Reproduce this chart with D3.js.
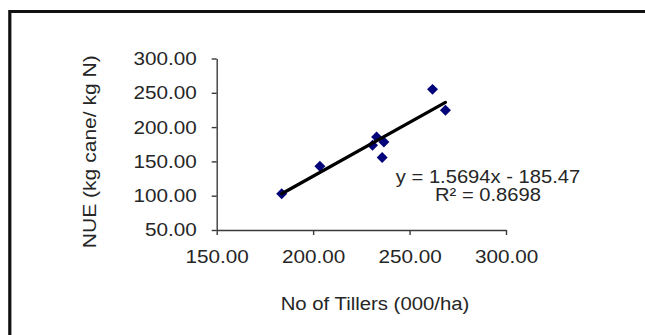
<!DOCTYPE html>
<html>
<head>
<meta charset="utf-8">
<script src="https://cdn.jsdelivr.net/npm/d3@7"></script>
<style>
  html, body { margin: 0; padding: 0; background: #fff; overflow: hidden; }
  svg { display: block; }
  text { font-family: "Liberation Sans", Arial, sans-serif; fill: #262626; }
</style>
</head>
<body>
<svg id="chart" width="645" height="335"></svg>
<script>
// Tiller density (000/ha) against nitrogen use efficiency (kg cane / kg N)
const tillers = [183.7, 203.5, 230.8, 232.9, 236.7, 235.8, 261.9, 268.6];
const nue     = [102.9, 142.8, 173.5, 185.7, 178.4, 155.6, 255.0, 224.7];

// Linear trendline fitted to the points
const slope = 1.5694;
const intercept = -185.47;
const rSquared = 0.8698;

const xTicks = [150, 200, 250, 300];
const yTicks = [50, 100, 150, 200, 250, 300];

const xTitle = "No of Tillers  (000/ha)";
const yTitle = "NUE (kg cane/ kg N)";

const stretch = 1.15;   // horizontal widening of the lettering
const fmt = d3.format(".2f");

const svg = d3.select("#chart");

// outer frame: top and left edges (the rest runs off the page)
svg.append("path")
  .attr("d", "M9.8,345 V11.5 H660")
  .attr("fill", "none").attr("stroke", "#111").attr("stroke-width", 3.2);

const x = d3.scaleLinear().domain([150, 300]).range([216.7, 506]);
const y = d3.scaleLinear().domain([50, 300]).range([230, 58.5]);

// x axis
const gx = svg.append("g")
  .attr("transform", `translate(0,${y(50)})`)
  .call(d3.axisBottom(x).tickValues(xTicks).tickFormat(fmt).tickSize(5).tickSizeOuter(0));
gx.selectAll("text")
  .attr("y", 33).attr("dy", 0)
  .attr("transform", `scale(${stretch},1)`)
  .attr("x", 0)
  .style("font-size", "18px");

// y axis
const gy = svg.append("g")
  .attr("transform", `translate(${x(150)},0)`)
  .call(d3.axisLeft(y).tickValues(yTicks).tickFormat(fmt).tickSize(5).tickSizeOuter(0));
gy.selectAll("text")
  .attr("x", -20 / stretch).attr("dy", "0.33em")
  .attr("transform", `scale(${stretch},1)`)
  .style("font-size", "18px");

[gx, gy].forEach(g => {
  g.select(".domain").attr("stroke", "#3a3a3a").attr("stroke-width", 1.4);
  g.selectAll(".tick line").attr("stroke", "#3a3a3a").attr("stroke-width", 1.4);
  g.selectAll("text").attr("fill", "#262626").style("font-family", "'Liberation Sans', Arial, sans-serif");
});

// points
svg.append("g").selectAll("path")
  .data(tillers.map((t, i) => [t, nue[i]]))
  .join("path")
  .attr("d", d3.symbol().type(d3.symbolSquare).size(60))
  .attr("transform", d => `translate(${x(d[0])},${y(d[1])}) rotate(45)`)
  .attr("fill", "#04047a");

// trendline across the observed range
const xExt = d3.extent(tillers);
svg.append("line")
  .attr("x1", x(xExt[0])).attr("y1", y(slope * xExt[0] + intercept))
  .attr("x2", x(xExt[1])).attr("y2", y(slope * xExt[1] + intercept))
  .attr("stroke", "#000").attr("stroke-width", 3.2).attr("stroke-linecap", "round");

// trendline equation
const eqX = 488;
svg.append("text")
  .attr("transform", `translate(${eqX},182.5) scale(${stretch - 0.03},1)`)
  .attr("text-anchor", "middle").style("font-size", "18px")
  .text(`y = ${slope}x  - ${Math.abs(intercept)}`);
svg.append("text")
  .attr("transform", `translate(${eqX},200.5) scale(${stretch - 0.03},1)`)
  .attr("text-anchor", "middle").style("font-size", "18px")
  .text(`R² = ${rSquared}`);

// axis titles
svg.append("text")
  .attr("transform", `translate(375,310) scale(${stretch - 0.02},1)`)
  .attr("text-anchor", "middle").style("font-size", "18px")
  .text(xTitle);
svg.append("text")
  .attr("transform", `translate(96,151.7) rotate(-90) scale(${stretch + 0.02},1)`)
  .attr("text-anchor", "middle").style("font-size", "18px")
  .text(yTitle);
</script>
</body>
</html>
